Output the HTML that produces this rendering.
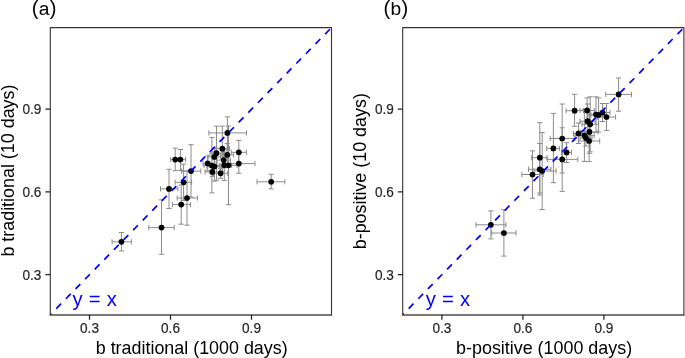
<!DOCTYPE html>
<html><head><meta charset="utf-8"><style>
html,body{margin:0;padding:0;background:#fff;}
svg{display:block;will-change:transform;}
text{font-family:"Liberation Sans",sans-serif;}
.tk{font-size:13.6px;fill:#262626;stroke:#262626;stroke-width:0.2px;}
.ti{font-size:17.9px;fill:#000;}
.pl{font-size:19.2px;fill:#000;letter-spacing:0.3px;}
.yx{font-size:20.25px;fill:#0000ff;word-spacing:0.55px;}
</style></head><body>
<svg width="685" height="358" viewBox="0 0 685 358">

<defs>
<clipPath id="ca"><rect x="50.3" y="27.6" width="281.2" height="287.1"/></clipPath>
<clipPath id="cb"><rect x="402.7" y="27.6" width="281.2" height="287.1"/></clipPath>
</defs>
<path d="M121.4 232.5V251M118.8 232.5H124M118.8 251H124M112.1 241.8H131.4M112.1 239.2V244.4M131.4 239.2V244.4M161.5 199.8V254.3M158.9 199.8H164.1M158.9 254.3H164.1M148.8 227.6H174.2M148.8 225V230.2M174.2 225V230.2M175.2 148.1V170.7M172.6 148.1H177.8M172.6 170.7H177.8M170.7 159.6H179.5M170.7 157V162.2M179.5 157V162.2M180.4 149.5V170.5M177.8 149.5H183M177.8 170.5H183M175.5 159.6H185.6M175.5 157V162.2M185.6 157V162.2M191 144.7V197M188.4 144.7H193.6M188.4 197H193.6M181.6 171.1H200.8M181.6 168.5V173.7M200.8 168.5V173.7M183.6 164.2V200.4M181 164.2H186.2M181 200.4H186.2M175.1 182.3H191.6M175.1 179.7V184.9M191.6 179.7V184.9M169 169.3V208.5M166.4 169.3H171.6M166.4 208.5H171.6M160.5 188.9H177.9M160.5 186.3V191.5M177.9 186.3V191.5M187 170.8V225.2M184.4 170.8H189.6M184.4 225.2H189.6M177.2 198H197.5M177.2 195.4V200.6M197.5 195.4V200.6M181.2 185V224.2M178.6 185H183.8M178.6 224.2H183.8M172.4 204.6H190.5M172.4 202V207.2M190.5 202V207.2M227.4 116.9V148.9M224.8 116.9H230M224.8 148.9H230M208.9 132.9H246.5M208.9 130.3V135.5M246.5 130.3V135.5M222.3 126.2V171.2M219.7 126.2H224.9M219.7 171.2H224.9M215 148.7H229.6M215 146.1V151.3M229.6 146.1V151.3M216.5 126.2V180.2M213.9 126.2H219.1M213.9 180.2H219.1M210 153.2H223M210 150.6V155.8M223 150.6V155.8M227.3 143.6V166.2M224.7 143.6H229.9M224.7 166.2H229.9M221 154.9H233.6M221 152.3V157.5M233.6 152.3V157.5M214.3 148V166M211.7 148H216.9M211.7 166H216.9M208 156.9H220.6M208 154.3V159.5M220.6 154.3V159.5M238.8 140.4V164.2M236.2 140.4H241.4M236.2 164.2H241.4M231.3 152.3H246.4M231.3 149.7V154.9M246.4 149.7V154.9M238.8 153.9V173.3M236.2 153.9H241.4M236.2 173.3H241.4M222.6 163.6H255M222.6 161V166.2M255 161V166.2M223.7 152V168M221.1 152H226.3M221.1 168H226.3M217 160.1H230.4M217 157.5V162.7M230.4 157.5V162.7M207.7 156V170.8M205.1 156H210.3M205.1 170.8H210.3M203 163.4H214.9M203 160.8V166M214.9 160.8V166M211.9 137.4V192.9M209.3 137.4H214.5M209.3 192.9H214.5M204 165.6H219.8M204 163V168.2M219.8 163V168.2M214.4 152V181.2M211.8 152H217M211.8 181.2H217M207 166.6H221.8M207 164V169.2M221.8 164V169.2M224.3 150V180.4M221.7 150H226.9M221.7 180.4H226.9M217 165.2H231.6M217 162.6V167.8M231.6 162.6V167.8M228.5 126V204.6M225.9 126H231.1M225.9 204.6H231.1M220 165.3H237M220 162.7V167.9M237 162.7V167.9M212.3 167.4V176.4M209.7 167.4H214.9M209.7 176.4H214.9M205 171.9H219.6M205 169.3V174.5M219.6 169.3V174.5M220.6 168.3V178.3M218 168.3H223.2M218 178.3H223.2M213.5 173.3H227.7M213.5 170.7V175.9M227.7 170.7V175.9M271.2 174.3V188.9M268.6 174.3H273.8M268.6 188.9H273.8M257 181.8H284.9M257 179.2V184.4M284.9 179.2V184.4" stroke="#8c8c8c" stroke-width="1.0" fill="none"/>
<circle cx="121.4" cy="241.8" r="2.85"/>
<circle cx="161.5" cy="227.6" r="2.85"/>
<circle cx="175.2" cy="159.6" r="2.85"/>
<circle cx="180.4" cy="159.6" r="2.85"/>
<circle cx="191" cy="171.1" r="2.85"/>
<circle cx="183.6" cy="182.3" r="2.85"/>
<circle cx="169" cy="188.9" r="2.85"/>
<circle cx="187" cy="198" r="2.85"/>
<circle cx="181.2" cy="204.6" r="2.85"/>
<circle cx="227.4" cy="132.9" r="2.85"/>
<circle cx="222.3" cy="148.7" r="2.85"/>
<circle cx="216.5" cy="153.2" r="2.85"/>
<circle cx="227.3" cy="154.9" r="2.85"/>
<circle cx="214.3" cy="156.9" r="2.85"/>
<circle cx="238.8" cy="152.3" r="2.85"/>
<circle cx="238.8" cy="163.6" r="2.85"/>
<circle cx="223.7" cy="160.1" r="2.85"/>
<circle cx="207.7" cy="163.4" r="2.85"/>
<circle cx="211.9" cy="165.6" r="2.85"/>
<circle cx="214.4" cy="166.6" r="2.85"/>
<circle cx="224.3" cy="165.2" r="2.85"/>
<circle cx="228.5" cy="165.3" r="2.85"/>
<circle cx="212.3" cy="171.9" r="2.85"/>
<circle cx="220.6" cy="173.3" r="2.85"/>
<circle cx="271.2" cy="181.8" r="2.85"/>
<line x1="50.3" y1="314.7" x2="331.5" y2="27.6" stroke="#0000ff" stroke-width="1.7" stroke-dasharray="6.86 6.86" stroke-dashoffset="5.14" clip-path="url(#ca)"/>
<path d="M490.9 210.9V238.9M488.3 210.9H493.5M488.3 238.9H493.5M475.9 224.8H506M475.9 222.2V227.4M506 222.2V227.4M503.9 209.7V256.1M501.3 209.7H506.5M501.3 256.1H506.5M491.8 233H516.1M491.8 230.4V235.6M516.1 230.4V235.6M532.5 150.9V198.3M529.9 150.9H535.1M529.9 198.3H535.1M521.8 174.5H543.2M521.8 171.9V177.1M543.2 171.9V177.1M539.8 122.6V193M537.2 122.6H542.4M537.2 193H542.4M531.7 157.7H546.8M531.7 155.1V160.3M546.8 155.1V160.3M539.7 143.5V195M537.1 143.5H542.3M537.1 195H542.3M528.5 169.3H550.9M528.5 166.7V171.9M550.9 166.7V171.9M542.2 132.6V209.6M539.6 132.6H544.8M539.6 209.6H544.8M534 171H556.1M534 168.4V173.6M556.1 168.4V173.6M553.4 113.4V182.7M550.8 113.4H556M550.8 182.7H556M546.8 148.4H559.4M546.8 145.8V151M559.4 145.8V151M562.2 104V173M559.6 104H564.8M559.6 173H564.8M550.2 138.5H574.2M550.2 135.9V141.1M574.2 135.9V141.1M566.6 142.7V162.5M564 142.7H569.2M564 162.5H569.2M561.5 152.4H571.5M561.5 149.8V155M571.5 149.8V155M562.2 127.8V191.4M559.6 127.8H564.8M559.6 191.4H564.8M547.7 159.4H577.8M547.7 156.8V162M577.8 156.8V162M574.6 94.3V126.3M572 94.3H577.2M572 126.3H577.2M566 110.7H583.5M566 108.1V113.3M583.5 108.1V113.3M587.1 97.9V122.9M584.5 97.9H589.7M584.5 122.9H589.7M580 110.4H594.2M580 107.8V113M594.2 107.8V113M596 96.8V132.4M593.4 96.8H598.6M593.4 132.4H598.6M588 114.6H604M588 112V117.2M604 112V117.2M598.6 97.9V132.1M596 97.9H601.2M596 132.1H601.2M591 115H606.2M591 112.4V117.6M606.2 112.4V117.6M602.5 103.5V121.5M599.9 103.5H605.1M599.9 121.5H605.1M595 112.5H610M595 109.9V115.1M610 109.9V115.1M606.5 103.5V130.5M603.9 103.5H609.1M603.9 130.5H609.1M597.4 117H615.6M597.4 114.4V119.6M615.6 114.4V119.6M587.6 104V138.4M585 104H590.2M585 138.4H590.2M580 121.2H595.2M580 118.6V123.8M595.2 118.6V123.8M590.2 96.8V151.8M587.6 96.8H592.8M587.6 151.8H592.8M582 124.3H598.4M582 121.7V126.9M598.4 121.7V126.9M589.5 110.5V153.3M586.9 110.5H592.1M586.9 153.3H592.1M581 131.9H598M581 129.3V134.5M598 129.3V134.5M578.5 123V143.5M575.9 123H581.1M575.9 143.5H581.1M573.5 133.4H587.6M573.5 130.8V136M587.6 130.8V136M584.4 109.2V161.4M581.8 109.2H587M581.8 161.4H587M575 135.6H594.2M575 133V138.2M594.2 133V138.2M585.9 131V146M583.3 131H588.5M583.3 146H588.5M580 138.1H592M580 135.5V140.7M592 135.5V140.7M589.1 120.3V161.6M586.5 120.3H591.7M586.5 161.6H591.7M578.3 141H599.7M578.3 138.4V143.6M599.7 138.4V143.6M618.6 78V111.2M616 78H621.2M616 111.2H621.2M605.7 94.4H631.5M605.7 91.8V97M631.5 91.8V97" stroke="#8c8c8c" stroke-width="1.0" fill="none"/>
<circle cx="490.9" cy="224.8" r="2.85"/>
<circle cx="503.9" cy="233" r="2.85"/>
<circle cx="532.5" cy="174.5" r="2.85"/>
<circle cx="539.8" cy="157.7" r="2.85"/>
<circle cx="539.7" cy="169.3" r="2.85"/>
<circle cx="542.2" cy="171" r="2.85"/>
<circle cx="553.4" cy="148.4" r="2.85"/>
<circle cx="562.2" cy="138.5" r="2.85"/>
<circle cx="566.6" cy="152.4" r="2.85"/>
<circle cx="562.2" cy="159.4" r="2.85"/>
<circle cx="574.6" cy="110.7" r="2.85"/>
<circle cx="587.1" cy="110.4" r="2.85"/>
<circle cx="596" cy="114.6" r="2.85"/>
<circle cx="598.6" cy="115" r="2.85"/>
<circle cx="602.5" cy="112.5" r="2.85"/>
<circle cx="606.5" cy="117" r="2.85"/>
<circle cx="587.6" cy="121.2" r="2.85"/>
<circle cx="590.2" cy="124.3" r="2.85"/>
<circle cx="589.5" cy="131.9" r="2.85"/>
<circle cx="578.5" cy="133.4" r="2.85"/>
<circle cx="584.4" cy="135.6" r="2.85"/>
<circle cx="585.9" cy="138.1" r="2.85"/>
<circle cx="589.1" cy="141" r="2.85"/>
<circle cx="618.6" cy="94.4" r="2.85"/>
<line x1="402.7" y1="314.7" x2="683.9" y2="27.6" stroke="#0000ff" stroke-width="1.7" stroke-dasharray="6.86 6.86" stroke-dashoffset="5.14" clip-path="url(#cb)"/>
<path d="M50.3 27.6H331.5M50.3 27.05V315.6M331.5 27.05V315.6" fill="none" stroke="#333333" stroke-width="1.1"/>
<path d="M49.75 315H332.05" fill="none" stroke="#4a4a4a" stroke-width="1.3"/>
<path d="M89.5 315V319.7M170.5 315V319.7M251.5 315V319.7M50.3 109H45.4M50.3 191.75H45.4M50.3 274.5H45.4" stroke="#222" stroke-width="1.25"/>
<text transform="translate(89.5 332.9) scale(1 1.08)" class="tk" text-anchor="middle">0.3</text>
<text transform="translate(170.5 332.9) scale(1 1.08)" class="tk" text-anchor="middle">0.6</text>
<text transform="translate(251.5 332.9) scale(1 1.08)" class="tk" text-anchor="middle">0.9</text>
<text transform="translate(41.4 114) scale(1 1.08)" class="tk" text-anchor="end">0.9</text>
<text transform="translate(41.4 196.75) scale(1 1.08)" class="tk" text-anchor="end">0.6</text>
<text transform="translate(41.4 279.5) scale(1 1.08)" class="tk" text-anchor="end">0.3</text>
<text x="191.7" y="353.5" class="ti" text-anchor="middle">b traditional (1000 days)</text>
<text transform="translate(14.3 170.6) rotate(-90)" class="ti" text-anchor="middle">b traditional (10 days)</text>
<text x="31.7" y="14.6" class="pl"><tspan font-size="20.2px">(</tspan>a<tspan font-size="20.2px">)</tspan></text>
<text x="72.5" y="305.5" class="yx">y = x</text>
<path d="M402.7 27.6H683.9M402.7 27.05V315.6M683.9 27.05V315.6" fill="none" stroke="#333333" stroke-width="1.1"/>
<path d="M402.15 315H684.45" fill="none" stroke="#4a4a4a" stroke-width="1.3"/>
<path d="M441.9 315V319.7M522.9 315V319.7M603.9 315V319.7M402.7 109H397.8M402.7 191.75H397.8M402.7 274.5H397.8" stroke="#222" stroke-width="1.25"/>
<text transform="translate(441.9 332.9) scale(1 1.08)" class="tk" text-anchor="middle">0.3</text>
<text transform="translate(522.9 332.9) scale(1 1.08)" class="tk" text-anchor="middle">0.6</text>
<text transform="translate(603.9 332.9) scale(1 1.08)" class="tk" text-anchor="middle">0.9</text>
<text transform="translate(393.8 114) scale(1 1.08)" class="tk" text-anchor="end">0.9</text>
<text transform="translate(393.8 196.75) scale(1 1.08)" class="tk" text-anchor="end">0.6</text>
<text transform="translate(393.8 279.5) scale(1 1.08)" class="tk" text-anchor="end">0.3</text>
<text x="544.1" y="353.5" class="ti" text-anchor="middle">b-positive (1000 days)</text>
<text transform="translate(366.2 171.2) rotate(-90)" class="ti" text-anchor="middle">b-positive (10 days)</text>
<text x="383.5" y="14.6" class="pl"><tspan font-size="20.2px">(</tspan>b<tspan font-size="20.2px">)</tspan></text>
<text x="425.7" y="305.5" class="yx">y = x</text>
</svg>
</body></html>
